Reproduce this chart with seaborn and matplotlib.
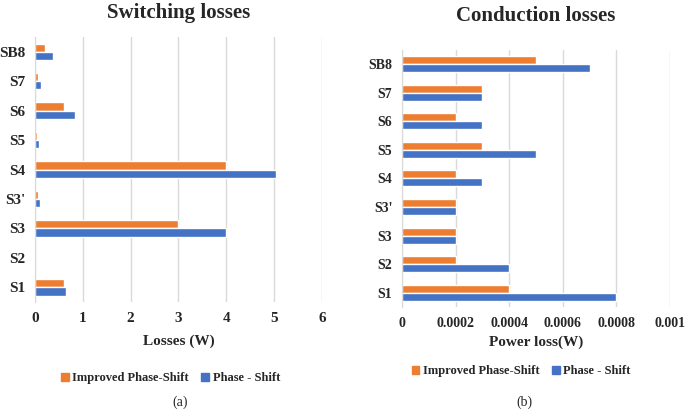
import numpy as np
import pandas as pd
import matplotlib
matplotlib.use("Agg")
import matplotlib.pyplot as plt
import seaborn as sns
from matplotlib.patches import Patch

switches = ["SB8", "S7", "S6", "S5", "S4", "S3'", "S3", "S2", "S1"]

# switching losses (W)
sw_improved = [0.22, 0.07, 0.60, 0.05, 4.00, 0.06, 3.00, 0.0, 0.60]
sw_phase = [0.37, 0.12, 0.83, 0.09, 5.03, 0.11, 4.00, 0.0, 0.64]

# conduction losses (W)
cd_improved = [0.0005, 0.0003, 0.0002, 0.0003, 0.0002, 0.0002, 0.0002, 0.0002, 0.0004]
cd_phase = [0.0007, 0.0003, 0.0003, 0.0005, 0.0003, 0.0002, 0.0002, 0.0004, 0.0008]

series = ["Improved Phase-Shift", "Phase - Shift"]
colors = {"Improved Phase-Shift": "#ED7D31", "Phase - Shift": "#4472C4"}

def long_df(a, b):
    return pd.DataFrame({
        "Switch": switches * 2,
        "Value": a + b,
        "Series": [series[0]] * len(switches) + [series[1]] * len(switches),
    })

sns.set_style("white")
plt.rcParams['font.family'] = ['Liberation Serif', 'DejaVu Serif']

fig = plt.figure(figsize=(6.85, 4.12), dpi=100)
ax1 = fig.add_axes([0.051, 0.267, 0.419, 0.643])
ax2 = fig.add_axes([0.587, 0.255, 0.391, 0.624])

sns.barplot(data=long_df(sw_improved, sw_phase), x="Value", y="Switch", hue="Series",
            order=switches, hue_order=series, palette=colors, width=0.56,
            orient="h", ax=ax1, legend=False, saturation=1)
sns.barplot(data=long_df(cd_improved, cd_phase), x="Value", y="Switch", hue="Series",
            order=switches, hue_order=series, palette=colors, width=0.56,
            orient="h", ax=ax2, legend=False, saturation=1)

ax1.set_xlim(0, 6)
ax1.set_xticks(range(0, 7))
ax2.set_xlim(0, 0.001)
ax2.set_xticks([0, 0.0002, 0.0004, 0.0006, 0.0008, 0.001])
ax2.set_xticklabels(["0", "0.0002", "0.0004", "0.0006", "0.0008", "0.001"])

for ax, title, xlabel, tsize, tpad, lpad in [
        (ax1, "Switching losses", "Losses (W)", 11, 14, 7),
        (ax2, "Conduction losses", "Power loss(W)", 10, 21, 4)]:
    ax.set_ylim(len(switches) - 0.5, -0.5)
    ax.grid(axis="x", color="#d9d9d9", linewidth=1)
    ax.set_axisbelow(True)
    for s in ["top", "right", "bottom"]:
        ax.spines[s].set_visible(False)
    ax.spines["left"].set_color("#d9d9d9")
    ax.tick_params(axis="both", length=0, labelsize=tsize, pad=7)
    for lab in ax.get_xticklabels() + ax.get_yticklabels():
        lab.set_fontweight("bold")
    ax.set_ylabel("")
    ax.set_xlabel(xlabel, fontsize=11, fontweight="bold", labelpad=lpad)
    ax.set_title(title, fontsize=15, fontweight="bold", pad=tpad)

handles = [Patch(color=colors[s], label=s) for s in series]
fig.legend(handles=handles, loc="center", bbox_to_anchor=(0.249, 0.082), ncol=2,
           frameon=False, handlelength=0.6, handleheight=0.6, handletextpad=0.3,
           columnspacing=1.0, prop={"weight": "bold", "size": 9})
fig.legend(handles=handles, loc="center", bbox_to_anchor=(0.761, 0.099), ncol=2,
           frameon=False, handlelength=0.6, handleheight=0.6, handletextpad=0.3,
           columnspacing=1.0, prop={"weight": "bold", "size": 9})

fig.text(0.263, 0.023, "(a)", ha="center", va="center", fontsize=10)
fig.text(0.765, 0.023, "(b)", ha="center", va="center", fontsize=10)

fig.savefig("out.png", dpi=100, facecolor="white")
